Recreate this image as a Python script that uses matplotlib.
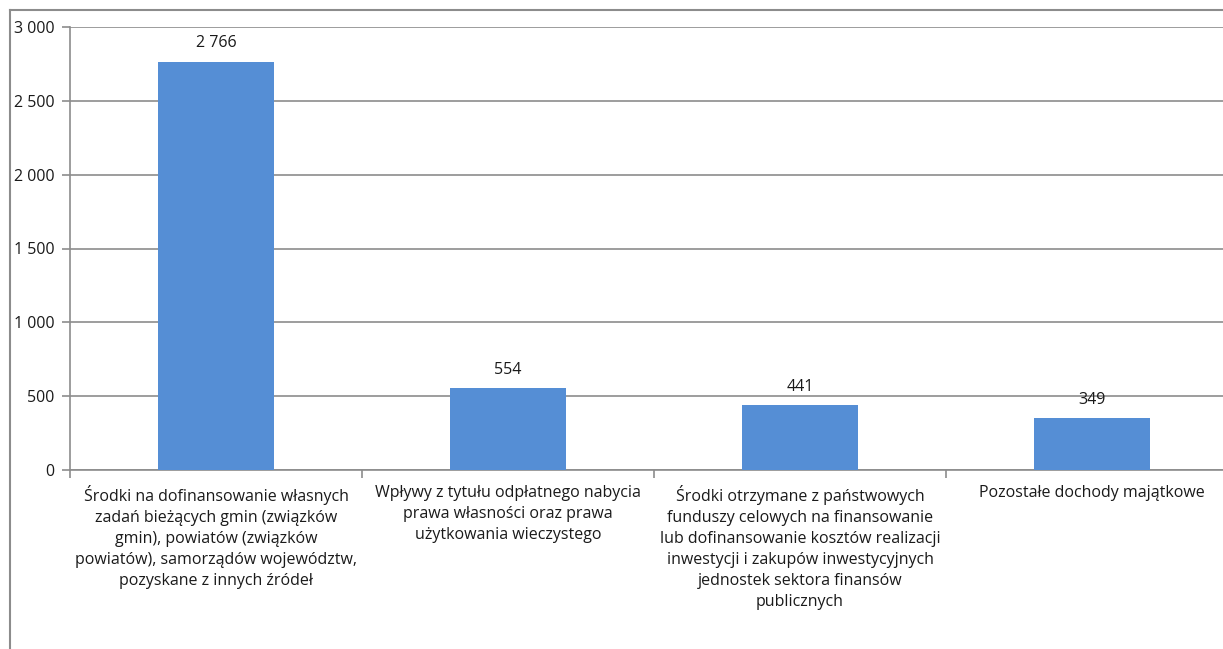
import matplotlib.pyplot as plt
from matplotlib.lines import Line2D
from matplotlib.ticker import FuncFormatter

categories = [
    "Środki na dofinansowanie własnych\nzadań bieżących gmin (związków\ngmin), powiatów (związków\npowiatów), samorządów województw,\npozyskane z innych źródeł",
    "Wpływy z tytułu odpłatnego nabycia\nprawa własności oraz prawa\nużytkowania wieczystego",
    "Środki otrzymane z państwowych\nfunduszy celowych na finansowanie\nlub dofinansowanie kosztów realizacji\ninwestycji i zakupów inwestycyjnych\njednostek sektora finansów\npublicznych",
    "Pozostałe dochody majątkowe",
]
values = [2766, 554, 441, 349]
yticks = [0, 500, 1000, 1500, 2000, 2500, 3000]

plt.rcParams["font.family"] = ["Open Sans", "DejaVu Sans"]

W, H = 1223, 649
fig = plt.figure(figsize=(W / 100, H / 100), dpi=100)

# plot area in pixels: x 70..1238 (cut off at right), y 27..470
x0, x1, ytop, ybot = 70, 1238, 27, 470
ax = fig.add_axes([x0 / W, 1 - ybot / H, (x1 - x0) / W, (ybot - ytop) / H])

pos = list(range(len(values)))
ax.bar(pos, values, width=0.4, color="#558ED5", zorder=3)
ax.set_xlim(-0.5, len(values) - 0.5)
ax.set_ylim(0, 3000)

for x, v in zip(pos, values):
    ax.text(x, v + 70, f"{v:,}".replace(",", " "), ha="center", va="bottom",
            fontsize=11.5, color="#1a1a1a")

ax.set_yticks(yticks)
ax.yaxis.set_major_formatter(FuncFormatter(lambda v, p: f"{int(v):,}".replace(",", " ")))
ax.yaxis.grid(True, color="#8c8c8c", linewidth=1.2, zorder=0)
ax.set_xticks([-0.5, 0.5, 1.5, 2.5, 3.5])
ax.set_xticklabels([])
ax.tick_params(axis="x", length=6, color="#8c8c8c", width=1.2)
ax.tick_params(axis="y", length=6, color="#8c8c8c", width=1.2, labelsize=11.5,
               labelcolor="#1a1a1a", pad=5)
for s in ["top", "right"]:
    ax.spines[s].set_visible(False)
for s in ["left", "bottom"]:
    ax.spines[s].set_color("#8c8c8c")
    ax.spines[s].set_linewidth(1.2)

for x, lab in zip(pos, categories):
    ax.text(x, -0.033, lab, transform=ax.get_xaxis_transform(), ha="center",
            va="top", fontsize=11.5, color="#1a1a1a", linespacing=1.42)

# outer chart border (cut at right and bottom)
fig.add_artist(Line2D([10 / W, 10 / W], [0, 1 - 10 / H], transform=fig.transFigure,
                      color="#8c8c8c", linewidth=1.5))
fig.add_artist(Line2D([10 / W, 1], [1 - 10 / H, 1 - 10 / H], transform=fig.transFigure,
                      color="#8c8c8c", linewidth=1.5))

fig.savefig("out.png", dpi=100, facecolor="white")
